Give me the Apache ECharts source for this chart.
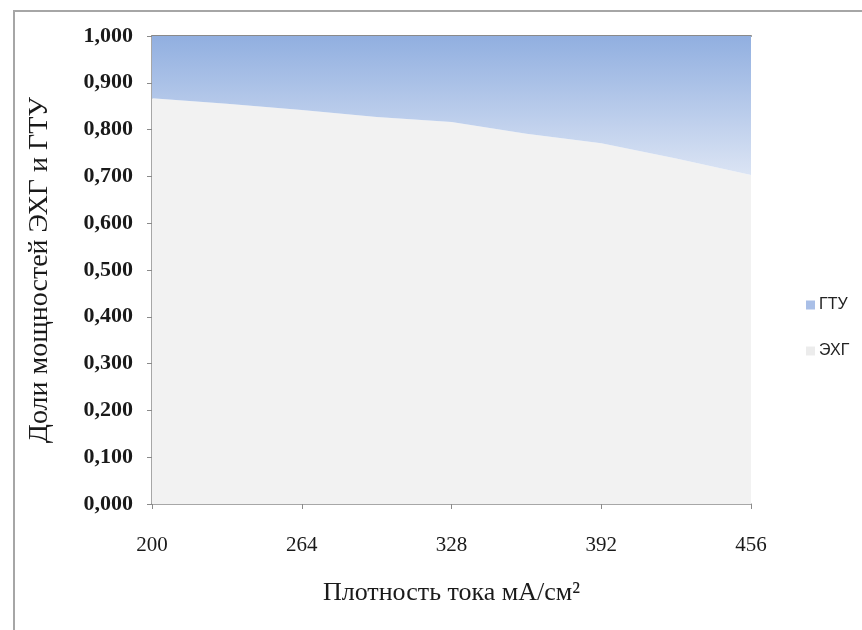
<!DOCTYPE html>
<html>
<head>
<meta charset="utf-8">
<script src="https://cdn.jsdelivr.net/npm/echarts@6/dist/echarts.min.js"></script>
<style>
  html, body { margin: 0; padding: 0; background: #ffffff; }
  #chart { width: 862px; height: 630px; }
</style>
</head>
<body>
<div id="chart"></div>
<script>
// Current density, mA/cm²
const densities = ['200', '232', '264', '296', '328', '360', '392', '424', '456'];
// Power share of the electrochemical generator (ЭХГ)
const shareEHG = [0.867, 0.855, 0.842, 0.827, 0.816, 0.791, 0.771, 0.738, 0.703];
// Power share of the gas turbine unit (ГТУ)
const shareGTU = [0.133, 0.145, 0.158, 0.173, 0.184, 0.209, 0.229, 0.262, 0.297];
// Y-axis range and step
const yMin = 0, yMax = 1, yStep = 0.1;

const serif = '"Liberation Serif", "DejaVu Serif", serif';
const sans = '"Liberation Sans", Arial, sans-serif';
const axisGrey = '#8a8a8a';

const chart = echarts.init(document.getElementById('chart'), null, { renderer: 'canvas' });

chart.setOption({
  backgroundColor: '#ffffff',
  animation: false,
  graphic: [
    {
      type: 'rect',
      shape: { x: 14, y: 11, width: 900, height: 700 },
      style: { fill: 'none', stroke: '#a6a6a6', lineWidth: 2 },
      silent: true
    }
  ],
  grid: { left: 152, right: 111, top: 36, bottom: 126, containLabel: false },
  legend: {
    orient: 'vertical',
    left: 801,
    top: 292,
    itemWidth: 9,
    itemHeight: 9,
    itemGap: 30,
    icon: 'rect',
    textStyle: { fontFamily: sans, fontSize: 16, color: '#222222', padding: [0, 0, 0, -1] },
    data: [
      { name: 'ГТУ', itemStyle: { color: '#a9bfe7' } },
      { name: 'ЭХГ', itemStyle: { color: '#ececec' } }
    ]
  },
  xAxis: [
    {
      type: 'category',
      data: densities,
      boundaryGap: false,
      name: 'Плотность тока мА/см²',
      nameLocation: 'middle',
      nameGap: 76,
      nameTextStyle: { fontFamily: serif, fontSize: 26, color: '#1a1a1a' },
      axisLine: { lineStyle: { color: axisGrey, width: 1.5 } },
      axisTick: { show: true, interval: 1, length: 5, lineStyle: { color: axisGrey } },
      axisLabel: { interval: 1, margin: 31, fontFamily: serif, fontSize: 21, color: '#1a1a1a' },
      splitLine: { show: false }
    },
    {
      type: 'category',
      data: densities,
      boundaryGap: false,
      position: 'top',
      axisLine: { lineStyle: { color: axisGrey, width: 2 } },
      axisTick: { show: false },
      axisLabel: { show: false },
      splitLine: { show: false }
    }
  ],
  yAxis: {
    type: 'value',
    min: yMin,
    max: yMax,
    interval: yStep,
    name: 'Доли мощностей ЭХГ и ГТУ',
    nameLocation: 'middle',
    nameGap: 98,
    nameTextStyle: { fontFamily: serif, fontSize: 28, color: '#1a1a1a' },
    axisLine: { show: true, lineStyle: { color: axisGrey, width: 1.5 } },
    axisTick: { show: true, length: 5, lineStyle: { color: axisGrey } },
    axisLabel: {
      margin: 19,
      fontFamily: serif,
      fontSize: 22,
      fontWeight: 'bold',
      color: '#1a1a1a',
      formatter: v => v.toFixed(3).replace('.', ',')
    },
    splitLine: { show: false }
  },
  series: [
    {
      name: 'ЭХГ',
      type: 'line',
      stack: 'share',
      data: shareEHG,
      symbol: 'none',
      lineStyle: { width: 0 },
      itemStyle: { color: '#ececec' },
      areaStyle: { color: '#f2f2f2', opacity: 1 },
      z: 2
    },
    {
      name: 'ГТУ',
      type: 'line',
      stack: 'share',
      data: shareGTU,
      symbol: 'none',
      lineStyle: { width: 0 },
      itemStyle: { color: '#a9bfe7' },
      areaStyle: {
        opacity: 1,
        color: new echarts.graphic.LinearGradient(0, 0, 0, 1, [
          { offset: 0, color: '#91afe0' },
          { offset: 1, color: '#dbe4f4' }
        ])
      },
      z: 2
    }
  ]
});
</script>
</body>
</html>
